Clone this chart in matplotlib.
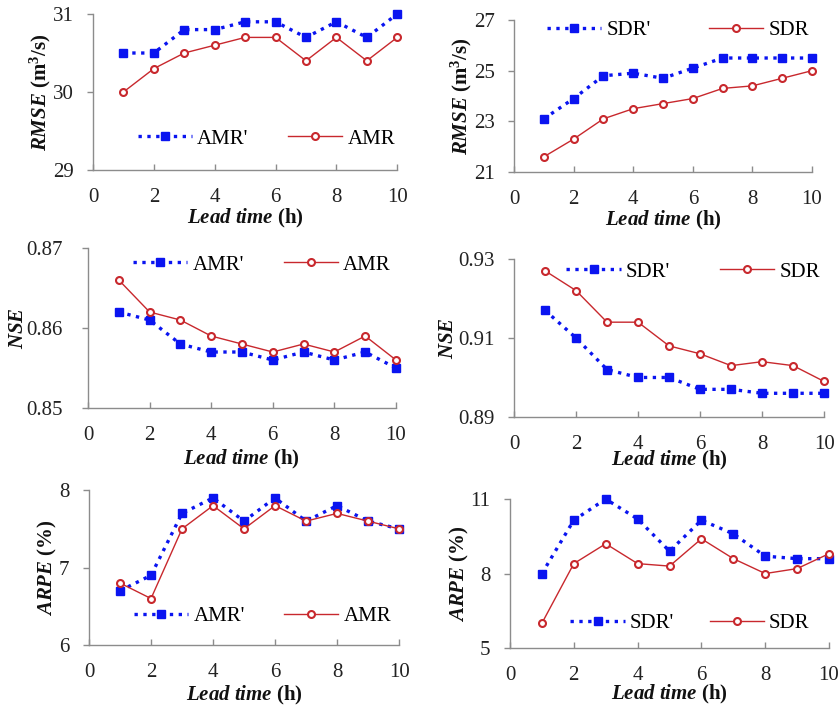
import matplotlib
matplotlib.use("Agg")
import matplotlib.pyplot as plt

plt.rcParams['font.family'] = ['Liberation Serif', 'DejaVu Serif']
plt.rcParams['mathtext.fontset'] = 'custom'
plt.rcParams['mathtext.rm'] = 'Liberation Serif'
plt.rcParams['mathtext.it'] = 'Liberation Serif:italic'
plt.rcParams['mathtext.bf'] = 'Liberation Serif:bold'
plt.rcParams['mathtext.bfit'] = 'Liberation Serif:italic:bold'

lead_time = [1, 2, 3, 4, 5, 6, 7, 8, 9, 10]

rmse_amr_p = [30.5, 30.5, 30.8, 30.8, 30.9, 30.9, 30.7, 30.9, 30.7, 31.0]
rmse_amr = [30.0, 30.3, 30.5, 30.6, 30.7, 30.7, 30.4, 30.7, 30.4, 30.7]
rmse_sdr_p = [23.1, 23.9, 24.8, 24.9, 24.7, 25.1, 25.5, 25.5, 25.5, 25.5]
rmse_sdr = [21.6, 22.3, 23.1, 23.5, 23.7, 23.9, 24.3, 24.4, 24.7, 25.0]

nse_amr_p = [0.862, 0.861, 0.858, 0.857, 0.857, 0.856, 0.857, 0.856, 0.857, 0.855]
nse_amr = [0.866, 0.862, 0.861, 0.859, 0.858, 0.857, 0.858, 0.857, 0.859, 0.856]
nse_sdr_p = [0.917, 0.910, 0.902, 0.900, 0.900, 0.897, 0.897, 0.896, 0.896, 0.896]
nse_sdr = [0.927, 0.922, 0.914, 0.914, 0.908, 0.906, 0.903, 0.904, 0.903, 0.899]

arpe_amr_p = [6.7, 6.9, 7.7, 7.9, 7.6, 7.9, 7.6, 7.8, 7.6, 7.5]
arpe_amr = [6.8, 6.6, 7.5, 7.8, 7.5, 7.8, 7.6, 7.7, 7.6, 7.5]
arpe_sdr_p = [8.0, 10.15, 11.0, 10.2, 8.9, 10.15, 9.6, 8.7, 8.6, 8.6]
arpe_sdr = [6.0, 8.4, 9.2, 8.4, 8.3, 9.4, 8.6, 8.0, 8.2, 8.8]

xticks = [0, 2, 4, 6, 8, 10]

BLUE = '#0A14F0'
RED = '#C8282D'
GRAY = '#8C8C8C'

fig = plt.figure(figsize=(8.38, 7.07), dpi=100)

panels = [
    # rect, primed, plain, names, yticks, ylabel, legend anchor, fmt, colspacing, ypad, ylabelpad, xlabelpad
    ([0.111, 0.7595, 0.363, 0.2207], rmse_amr_p, rmse_amr, ("AMR'", 'AMR'), [29, 30, 31],
     r'$\mathbfit{RMSE}$ $\mathbf{(m}^{\mathbf{3}}\mathbf{/s)}$', (0.57, 0.20), '{:.0f}', 1.9, 10, 0, 0),
    ([0.6134, 0.7567, 0.3556, 0.215], rmse_sdr_p, rmse_sdr, ("SDR'", 'SDR'), [21, 23, 25, 27],
     r'$\mathbfit{RMSE}$ $\mathbf{(m}^{\mathbf{3}}\mathbf{/s)}$', (0.55, 0.934), '{:.0f}', 2.8, 10, 0, 0),
    ([0.105, 0.4229, 0.3675, 0.2263], nse_amr_p, nse_amr, ("AMR'", 'AMR'), [0.85, 0.86, 0.87],
     r'$\mathbfit{NSE}$', (0.565, 0.894), '{:.2f}', 1.9, 14, -1, 2),
    ([0.6134, 0.4102, 0.37, 0.2235], nse_sdr_p, nse_sdr, ("SDR'", 'SDR'), [0.89, 0.91, 0.93],
     r'$\mathbfit{NSE}$', (0.578, 0.918), '{:.2f}', 2.4, 10, 0, -3.5),
    ([0.1062, 0.0877, 0.37, 0.219], arpe_amr_p, arpe_amr, ("AMR'", 'AMR'), [6, 7, 8],
     r'$\mathbfit{ARPE}$ $\mathbf{(\%)}$', (0.56, 0.187), '{:.0f}', 1.9, 10, 0, 1.5),
    ([0.6086, 0.0834, 0.3807, 0.2107], arpe_sdr_p, arpe_sdr, ("SDR'", 'SDR'), [5, 8, 11],
     r'$\mathbfit{ARPE}$ $\mathbf{(\%)}$', (0.564, 0.168), '{:.0f}', 1.7, 10, 0, -1.5),
]

for rect, yp, y0, names, yt, ylab, lpos, fmt, cs, ypad, lpad, xlpad in panels:
    ax = fig.add_axes(rect)
    ax.plot(lead_time, yp, linestyle=':', color=BLUE, lw=2.4, marker='s',
            markersize=5.5, markerfacecolor=BLUE, markeredgecolor=BLUE, label=names[0], zorder=3)
    ax.plot(lead_time, y0, linestyle='-', color=RED, lw=1.0, marker='o',
            markersize=5, markerfacecolor='white', markeredgecolor=RED, markeredgewidth=1.5,
            label=names[1], zorder=4)
    ax.set_xlim(0, 10)
    ax.set_ylim(yt[0], yt[-1])
    ax.set_xticks(xticks)
    ax.set_yticks(yt)
    ax.set_yticklabels([fmt.format(v) for v in yt])
    for s in ['top', 'right']:
        ax.spines[s].set_visible(False)
    for s in ['left', 'bottom']:
        ax.spines[s].set_color(GRAY)
        ax.spines[s].set_linewidth(1.0)
    ax.tick_params(axis='both', colors=GRAY, labelcolor='#222222', labelsize=15,
                   length=4, width=1.0)
    ax.tick_params(axis='x', direction='in', pad=13)
    ax.tick_params(axis='y', direction='out', pad=ypad)
    ax.set_ylabel(ylab, fontsize=15, labelpad=lpad, color='#111111')
    ax.set_xlabel(r'$\mathbfit{Lead\ time}$ $\mathbf{(h)}$', fontsize=15, labelpad=xlpad,
                  color='#111111')
    for ln in ax.lines:
        ln.set_clip_on(False)
    ax.legend(loc='center', bbox_to_anchor=lpos, ncol=2, frameon=False, fontsize=15,
              handlelength=2.6, columnspacing=cs, handletextpad=0.25, numpoints=1,
              borderaxespad=0)

fig.savefig('out.png', dpi=100)
